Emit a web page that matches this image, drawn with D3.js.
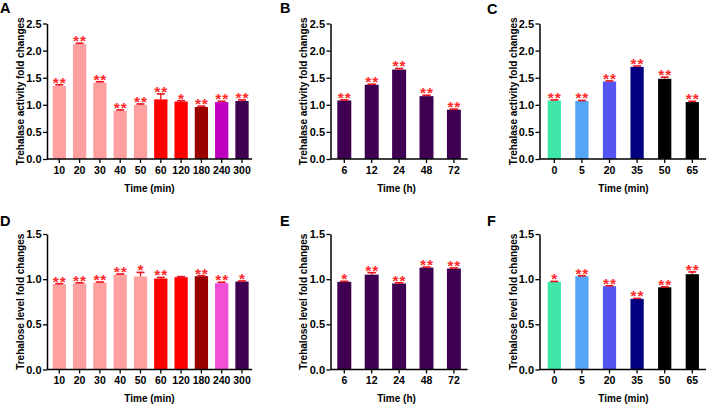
<!DOCTYPE html>
<html><head><meta charset="utf-8">
<script src="https://cdn.jsdelivr.net/npm/d3@7"></script>
<style>
html,body{margin:0;padding:0;background:#fff;}
svg{display:block;font-family:"Liberation Sans",Arial,sans-serif;}
</style></head>
<body>
<svg id="chart" width="708" height="405"></svg>
<script>
// ---- Data ----
const catA = ["10","20","30","40","50","60","120","180","240","300"];
const valA = [1.35,2.12,1.41,0.89,1.00,1.10,1.06,0.96,1.05,1.07];
const errA = [0.02,0.015,0.015,0.015,0.015,0.10,0.015,0.015,0.015,0.02];
const sigA = ["**","**","**","**","**","**","*","**","**","**"];

const catB = ["6","12","24","48","72"];
const valB = [1.08,1.37,1.65,1.16,0.91];
const errB = [0.01,0.01,0.02,0.015,0.01];
const sigB = ["**","**","**","**","**"];

const catC = ["0","5","20","35","50","65"];
const valC = [1.08,1.07,1.43,1.70,1.48,1.05];
const errC = [0.01,0.01,0.01,0.015,0.03,0.015];
const sigC = ["**","**","**","**","**","**"];

const catD = ["10","20","30","40","50","60","120","180","240","300"];
const valD = [0.945,0.955,0.963,1.052,1.03,1.007,1.022,1.033,0.956,0.974];
const errD = [0.005,0.005,0.005,0.005,0.045,0.012,0.006,0.006,0.01,0.006];
const sigD = ["**","**","**","**","*","**","","**","**","*"];

const catE = ["6","12","24","48","72"];
const valE = [0.97,1.05,0.952,1.128,1.118];
const errE = [0.006,0.022,0.008,0.006,0.006];
const sigE = ["*","**","**","**","**"];

const catF = ["0","5","20","35","50","65"];
const valF = [0.97,1.033,0.922,0.782,0.91,1.055];
const errF = [0.005,0.005,0.005,0.005,0.005,0.025];
const sigF = ["*","**","**","**","**","**"];

const ticksTop = [0,0.5,1.0,1.5,2.0,2.5];
const ticksBottom = [0,0.5,1.0,1.5];

// ---- Styles ----
const colA = ["#ffa0a0","#ffa0a0","#ffa0a0","#ffa0a0","#ffa0a0","#ff0000","#ff0000","#990000","#c000c0","#3f0052"];
const colD = ["#ffa0a0","#ffa0a0","#ffa0a0","#ffa0a0","#ffa0a0","#ff0000","#ff0000","#990000","#f24fd9","#3f0052"];
const colB = "#3f0052";
const colC = ["#3fe8a8","#55a5f7","#5454f2","#000080","#000000","#000000"];

const svg = d3.select("#chart");

const cols = {
  left:  {ax:47,    r0:49.15, r1:252.15, pi:0.345, titleX:20.7, letterX:0, xTitleX:149.5},
  mid:   {ax:330.5, r0:330.6, r1:467.6,  pi:0.49,  titleX:303.5, letterX:280, xTitleX:396.5},
  right: {ax:539.5, r0:540.5, r1:706.1,  pi:0.52,  titleX:513,  letterX:487, xTitleX:623.5}
};
const rows = {
  top:    {y0:159, y1:23.5, max:2.5, ticks:ticksTop, title:"Trehalase activity fold changes", letterY:12.5, xTitleY:191.5},
  bottom: {y0:369.5, y1:234, max:1.5, ticks:ticksBottom, title:"Trehalose level fold changes", letterY:226, xTitleY:401.5}
};

const panels = [
  {L:"A", c:cols.left,  r:rows.top,    cats:catA, vals:valA, errs:errA, sig:sigA, colors:colA, unit:"Time (min)"},
  {L:"B", c:cols.mid,   r:rows.top,    cats:catB, vals:valB, errs:errB, sig:sigB, colors:catB.map(()=>colB), unit:"Time (h)"},
  {L:"C", c:cols.right, r:rows.top,    cats:catC, vals:valC, errs:errC, sig:sigC, colors:colC, unit:"Time (min)", letterY:13.5},
  {L:"D", c:cols.left,  r:rows.bottom, cats:catD, vals:valD, errs:errD, sig:sigD, colors:colD, unit:"Time (min)"},
  {L:"E", c:cols.mid,   r:rows.bottom, cats:catE, vals:valE, errs:errE, sig:sigE, colors:catE.map(()=>colB), unit:"Time (h)"},
  {L:"F", c:cols.right, r:rows.bottom, cats:catF, vals:valF, errs:errF, sig:sigF, colors:colC, unit:"Time (min)"}
];

panels.forEach(p => {
  const g = svg.append("g");
  const x = d3.scaleBand().domain(p.cats).range([p.c.r0, p.c.r1])
    .paddingInner(p.c.pi).paddingOuter(p.c.pi/2);
  const y = d3.scaleLinear().domain([0, p.r.max]).range([p.r.y0, p.r.y1]);
  const data = p.cats.map((k,i)=>({k, v:p.vals[i], e:p.errs[i], s:p.sig[i], col:p.colors[i]}));

  // bars
  g.selectAll("rect.bar").data(data).enter().append("rect")
    .attr("x", d=>x(d.k)).attr("width", x.bandwidth())
    .attr("y", d=>y(d.v)).attr("height", d=>y(0)-y(d.v))
    .attr("fill", d=>d.col);

  // error bars
  const capW = x.bandwidth()*0.6;
  g.selectAll("line.err").data(data).enter().append("line")
    .attr("x1", d=>x(d.k)+x.bandwidth()/2).attr("x2", d=>x(d.k)+x.bandwidth()/2)
    .attr("y1", d=>y(d.v)).attr("y2", d=>y(d.v+d.e))
    .attr("stroke","#e8101c").attr("stroke-width",1.3);
  g.selectAll("line.cap").data(data).enter().append("line")
    .attr("x1", d=>x(d.k)+x.bandwidth()/2-capW/2).attr("x2", d=>x(d.k)+x.bandwidth()/2+capW/2)
    .attr("y1", d=>y(d.v+d.e)).attr("y2", d=>y(d.v+d.e))
    .attr("stroke","#e8101c").attr("stroke-width",1.6);

  // significance stars
  g.selectAll("text.sig").data(data).enter().append("text")
    .attr("x", d=>x(d.k)+x.bandwidth()/2)
    .attr("y", d=>y(d.v+d.e)+3)
    .attr("text-anchor","middle")
    .attr("font-size",15.5).attr("font-weight","bold")
    .attr("letter-spacing", d=>d.s.length>1 ? "0.9px" : "0px")
    .attr("dx", d=>d.s.length>1 ? 0.45 : 0)
    .attr("fill","#ff2a2a")
    .text(d=>d.s);

  // y axis
  const ya = g.append("g").attr("transform",`translate(${p.c.ax},0)`)
    .call(d3.axisLeft(y).tickValues(p.r.ticks).tickFormat(d3.format(".1f")).tickSize(4).tickPadding(1.5).tickSizeOuter(0));
  ya.selectAll("text").attr("font-size",11).attr("font-weight","bold").attr("fill","#000").attr("font-family","Liberation Sans, Arial, sans-serif");
  ya.selectAll("line").attr("stroke-width",1.3);
  ya.select(".domain").attr("stroke-width",1.5);

  // x axis
  const xa = g.append("g").attr("transform",`translate(0,${p.r.y0})`)
    .call(d3.axisBottom(x).tickSize(4).tickPadding(3.5).tickSizeOuter(0));
  xa.select(".domain").remove();
  xa.selectAll("text").attr("font-size",10.5).attr("font-weight","bold").attr("fill","#000").attr("font-family","Liberation Sans, Arial, sans-serif");
  xa.selectAll("line").attr("stroke-width",1.3);
  g.append("line").attr("x1",p.c.ax).attr("x2",p.c.r1).attr("y1",p.r.y0).attr("y2",p.r.y0)
    .attr("stroke","#000").attr("stroke-width",1.5);

  // y title
  g.append("text")
    .attr("transform",`translate(${p.c.titleX},${(p.r.y0+p.r.y1)/2}) rotate(-90)`)
    .attr("text-anchor","middle").attr("dy","0.35em")
    .attr("font-size",10).attr("font-weight","bold").attr("fill","#000")
    .text(p.r.title);

  // x title
  g.append("text")
    .attr("x",p.c.xTitleX).attr("y",p.r.xTitleY)
    .attr("text-anchor","middle")
    .attr("font-size",10).attr("font-weight","bold").attr("fill","#000")
    .text(p.unit);

  // panel letter
  g.append("text")
    .attr("x",p.c.letterX).attr("y",p.letterY || p.r.letterY)
    .attr("font-size",14.5).attr("font-weight","bold").attr("fill","#000")
    .text(p.L);
});
</script>
</body></html>
